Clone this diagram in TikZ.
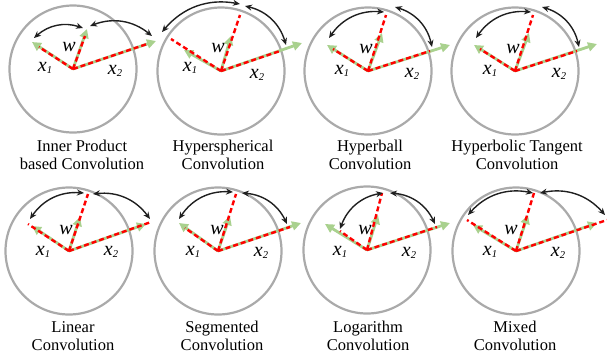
\documentclass[tikz,border=0pt]{standalone}
\usepackage{fontspec}
\setmainfont{Liberation Serif}
\usetikzlibrary{arrows.meta}
\definecolor{ringgray}{RGB}{170,170,170}
\definecolor{vgreen}{RGB}{169,209,142}
\definecolor{vred}{RGB}{255,0,0}
\newcommand{\xsub}[1]{\textit{x}\raisebox{-2pt}{\fontsize{10.5}{10.5}\selectfont\itshape #1}}
\tikzset{
  ring/.style={circle, draw=ringgray, line width=2.2pt, minimum size=127pt, inner sep=0pt},
  garrow/.style={draw=vgreen, line width=2.8pt, -{Triangle[length=9pt,width=9pt]}},
  rdash/.style={draw=vred, line width=2.4pt, dash pattern=on 5pt off 3pt},
  anglearc/.style={draw=black!88, line width=1.4pt, {Stealth[length=7pt,width=6pt]}-{Stealth[length=7pt,width=6pt]}},
  lab/.style={font=\fontsize{20}{20}\selectfont\itshape, inner sep=0pt},
  captext/.style={font=\fontsize{16.5}{18.5}\selectfont, align=center, inner sep=0pt}
}
\begin{document}
\begin{tikzpicture}[x=1pt,y=-1pt]
\useasboundingbox (0,0) rectangle (607,360);
% ---------- Panel 1
\begin{scope}[shift={(73,69)}]
\node[ring] (c1) at (0,0) {};
\coordinate (o1) at (0,0);
\coordinate (g1a) at (-41,-27); \coordinate (g1b) at (14,-40); \coordinate (g1c) at (83,-28);
\coordinate (r1a) at (-34,-22); \coordinate (r1b) at (12,-33); \coordinate (r1c) at (74,-25);
\draw[garrow] (o1) -- (g1a); \draw[garrow] (o1) -- (g1b); \draw[garrow] (o1) -- (g1c);
\draw[rdash] (o1) -- (r1a); \draw[rdash] (o1) -- (r1b); \draw[rdash] (o1) -- (r1c);
\coordinate (s1a) at (-39,-31); \coordinate (e1a) at (10,-41);
\coordinate (s1b) at (17,-43); \coordinate (e1b) at (79,-33);
\draw[anglearc] (s1a) to[bend left=30] (e1a);
\draw[anglearc] (s1b) to[bend left=30] (e1b);
\node[lab] (w1) at (-4,-22) {w};
\node[lab] (xa1) at (-28,-1) {\xsub{1}};
\node[lab] (xb1) at (42,2) {\xsub{2}};
\end{scope}
\node[captext] (t1) at (82,155) {Inner Product\\based Convolution};
% ---------- Panel 2
\begin{scope}[shift={(221,71)}]
\node[ring] (c2) at (0,0) {};
\coordinate (o2) at (0,0);
\coordinate (g2a) at (-37,-21); \coordinate (g2b) at (10,-35); \coordinate (g2c) at (81,-28);
\coordinate (r2a) at (-50,-32); \coordinate (r2b) at (19,-56); \coordinate (r2c) at (59,-20);
\draw[garrow] (o2) -- (g2a); \draw[garrow] (o2) -- (g2b); \draw[garrow] (o2) -- (g2c);
\draw[rdash] (o2) -- (r2a); \draw[rdash] (o2) -- (r2b); \draw[rdash] (o2) -- (r2c);
\coordinate (s2a) at (-59,-39); \coordinate (e2a) at (19,-67);
\coordinate (s2b) at (24,-65); \coordinate (e2b) at (65,-26);
\draw[anglearc] (s2a) to[bend left=30] (e2a);
\draw[anglearc] (s2b) to[bend left=30] (e2b);
\node[lab] (w2) at (-3,-23) {w};
\node[lab] (xa2) at (-31,-3) {\xsub{1}};
\node[lab] (xb2) at (36,4) {\xsub{2}};
\end{scope}
\node[captext] (t2) at (223,155) {Hyperspherical\\Convolution};
% ---------- Panel 3
\begin{scope}[shift={(368,71)}]
\node[ring] (c3) at (0,0) {};
\coordinate (o3) at (0,0);
\coordinate (g3a) at (-41,-26); \coordinate (g3b) at (14,-38); \coordinate (g3c) at (82,-26);
\coordinate (r3a) at (-35,-22); \coordinate (r3b) at (18,-56); \coordinate (r3c) at (62,-20);
\draw[garrow] (o3) -- (g3a); \draw[garrow] (o3) -- (g3b); \draw[garrow] (o3) -- (g3c);
\draw[rdash] (o3) -- (r3a); \draw[rdash] (o3) -- (r3b); \draw[rdash] (o3) -- (r3c);
\coordinate (s3a) at (-39,-33); \coordinate (e3a) at (16,-59);
\coordinate (s3b) at (27,-64); \coordinate (e3b) at (64,-24);
\draw[anglearc] (s3a) to[bend left=30] (e3a);
\draw[anglearc] (s3b) to[bend left=30] (e3b);
\node[lab] (w3) at (-2,-22) {w};
\node[lab] (xa3) at (-26,0) {\xsub{1}};
\node[lab] (xb3) at (44,3) {\xsub{2}};
\end{scope}
\node[captext] (t3) at (370,155) {Hyperball\\Convolution};
% ---------- Panel 4
\begin{scope}[shift={(515,71)}]
\node[ring] (c4) at (0,0) {};
\coordinate (o4) at (0,0);
\coordinate (g4a) at (-41,-26); \coordinate (g4b) at (14,-38); \coordinate (g4c) at (82,-27);
\coordinate (r4a) at (-35,-22); \coordinate (r4b) at (18,-56); \coordinate (r4c) at (62,-20);
\draw[garrow] (o4) -- (g4a); \draw[garrow] (o4) -- (g4b); \draw[garrow] (o4) -- (g4c);
\draw[rdash] (o4) -- (r4a); \draw[rdash] (o4) -- (r4b); \draw[rdash] (o4) -- (r4c);
\coordinate (s4a) at (-39,-33); \coordinate (e4a) at (16,-59);
\coordinate (s4b) at (27,-64); \coordinate (e4b) at (64,-24);
\draw[anglearc] (s4a) to[bend left=30] (e4a);
\draw[anglearc] (s4b) to[bend left=30] (e4b);
\node[lab] (w4) at (-2,-22) {w};
\node[lab] (xa4) at (-25,0) {\xsub{1}};
\node[lab] (xb4) at (44,3) {\xsub{2}};
\end{scope}
\node[captext] (t4) at (517,155) {Hyperbolic Tangent\\Convolution};
% ---------- Panel 5
\begin{scope}[shift={(69,251)}]
\node[ring] (c5) at (0,0) {};
\coordinate (o5) at (0,0);
\coordinate (g5a) at (-37,-25); \coordinate (g5b) at (11,-34); \coordinate (g5c) at (77,-27);
\coordinate (r5a) at (-41,-27); \coordinate (r5b) at (19,-57); \coordinate (r5c) at (82,-29);
\draw[garrow] (o5) -- (g5a); \draw[garrow] (o5) -- (g5b); \draw[garrow] (o5) -- (g5c);
\draw[rdash] (o5) -- (r5a); \draw[rdash] (o5) -- (r5b); \draw[rdash] (o5) -- (r5c);
\coordinate (s5a) at (-39,-32); \coordinate (e5a) at (15,-58);
\coordinate (s5b) at (24,-57); \coordinate (e5b) at (81,-32);
\draw[anglearc] (s5a) to[bend left=30] (e5a);
\draw[anglearc] (s5b) to[bend left=30] (e5b);
\node[lab] (w5) at (-3,-21) {w};
\node[lab] (xa5) at (-26,1) {\xsub{1}};
\node[lab] (xb5) at (42,1) {\xsub{2}};
\end{scope}
\node[captext] (t5) at (73,336) {Linear\\Convolution};
% ---------- Panel 6
\begin{scope}[shift={(218,251)}]
\node[ring] (c6) at (0,0) {};
\coordinate (o6) at (0,0);
\coordinate (g6a) at (-39,-28); \coordinate (g6b) at (12,-35); \coordinate (g6c) at (83,-28);
\coordinate (r6a) at (-33,-23); \coordinate (r6b) at (18,-57); \coordinate (r6c) at (72,-24);
\draw[garrow] (o6) -- (g6a); \draw[garrow] (o6) -- (g6b); \draw[garrow] (o6) -- (g6c);
\draw[rdash] (o6) -- (r6a); \draw[rdash] (o6) -- (r6b); \draw[rdash] (o6) -- (r6c);
\coordinate (s6a) at (-39,-32); \coordinate (e6a) at (15,-59);
\coordinate (s6b) at (24,-58); \coordinate (e6b) at (69,-27);
\draw[anglearc] (s6a) to[bend left=30] (e6a);
\draw[anglearc] (s6b) to[bend left=30] (e6b);
\node[lab] (w6) at (-1,-21) {w};
\node[lab] (xa6) at (-25,1) {\xsub{1}};
\node[lab] (xb6) at (43,2) {\xsub{2}};
\end{scope}
\node[captext] (t6) at (222,336) {Segmented\\Convolution};
% ---------- Panel 7
\begin{scope}[shift={(367,250)}]
\node[ring] (c7) at (0,0) {};
\coordinate (o7) at (0,0);
\coordinate (g7a) at (-42,-26); \coordinate (g7b) at (11,-35); \coordinate (g7c) at (83,-27);
\coordinate (r7a) at (-27,-19); \coordinate (r7b) at (15,-57); \coordinate (r7c) at (70,-23);
\draw[garrow] (o7) -- (g7a); \draw[garrow] (o7) -- (g7b); \draw[garrow] (o7) -- (g7c);
\draw[rdash] (o7) -- (r7a); \draw[rdash] (o7) -- (r7b); \draw[rdash] (o7) -- (r7c);
\coordinate (s7a) at (-27,-21); \coordinate (e7a) at (16,-57);
\coordinate (s7b) at (23,-57); \coordinate (e7b) at (68,-26);
\draw[anglearc] (s7a) to[bend left=30] (e7a);
\draw[anglearc] (s7b) to[bend left=30] (e7b);
\node[lab] (w7) at (-2,-20) {w};
\node[lab] (xa7) at (-27,2) {\xsub{1}};
\node[lab] (xb7) at (42,3) {\xsub{2}};
\end{scope}
\node[captext] (t7) at (368,336) {Logarithm\\Convolution};
% ---------- Panel 8
\begin{scope}[shift={(516,251)}]
\node[ring] (c8) at (0,0) {};
\coordinate (o8) at (0,0);
\coordinate (g8a) at (-43,-26); \coordinate (g8b) at (12,-36); \coordinate (g8c) at (81,-28);
\coordinate (r8a) at (-49,-31); \coordinate (r8b) at (18,-58); \coordinate (r8c) at (91,-31);
\draw[garrow] (o8) -- (g8a); \draw[garrow] (o8) -- (g8b); \draw[garrow] (o8) -- (g8c);
\draw[rdash] (o8) -- (r8a); \draw[rdash] (o8) -- (r8b); \draw[rdash] (o8) -- (r8c);
\coordinate (s8a) at (-48,-36); \coordinate (e8a) at (17,-58);
\coordinate (s8b) at (24,-58); \coordinate (e8b) at (89,-36);
\draw[anglearc] (s8a) to[bend left=30] (e8a);
\draw[anglearc] (s8b) to[bend left=30] (e8b);
\node[lab] (w8) at (-5,-21) {w};
\node[lab] (xa8) at (-26,1) {\xsub{1}};
\node[lab] (xb8) at (42,2) {\xsub{2}};
\end{scope}
\node[captext] (t8) at (515,336) {Mixed\\Convolution};
\end{tikzpicture}
\end{document}
